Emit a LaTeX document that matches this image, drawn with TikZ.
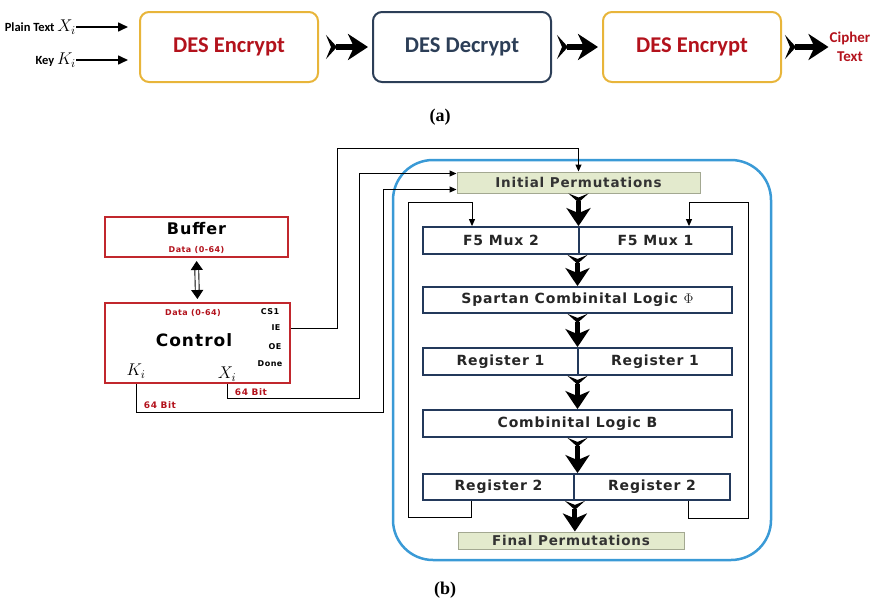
\documentclass[tikz,border=0pt]{standalone}
\usepackage{xcolor}
\usepackage{amsmath}
\usepackage{fix-cm}
\usepackage{fontspec}
\setmainfont{Liberation Serif}
\newfontfamily\calfont{Carlito}
\newfontfamily\boxfont{DejaVu Sans}[LetterSpace=6]
\usetikzlibrary{arrows.meta}
\usetikzlibrary{positioning}

\definecolor{desgold}{HTML}{E8B53A}
\definecolor{desnavy}{HTML}{2C3E57}
\definecolor{desred}{HTML}{B3121C}
\definecolor{bufred}{HTML}{C1272D}
\definecolor{frameblue}{HTML}{3A9AD6}
\definecolor{permgreen}{HTML}{E3EACD}
\definecolor{permgray}{HTML}{A3A891}
\definecolor{stagenavy}{HTML}{23395B}

\newcommand{\bigmath}[1]{{\fontsize{17}{19}\selectfont$#1$}}

\begin{document}
\begin{tikzpicture}[x=1pt, y=-1pt]
\tikzset{EncStyle/.style = {draw=desgold, line width=2pt, rounded corners=9pt, minimum width=178pt, minimum height=70pt, fill=white, text=desred, font=\calfont\bfseries\fontsize{22.5}{26}\selectfont}}
\tikzset{DecStyle/.style = {EncStyle, draw=desnavy, text=desnavy}}
\tikzset{InStyle/.style = {inner sep=0pt, anchor=east, font=\calfont\bfseries\fontsize{12.5}{15}\selectfont}}
\tikzset{BigArrow/.style = {line width=6pt, {Stealth[reversed, length=11pt, width=24pt, inset=5pt]}-{Stealth[length=20pt, width=26pt, inset=6pt]}}}
\tikzset{ThinArrow/.style = {line width=1.6pt, -{Triangle[length=10pt, width=9pt]}}}
\tikzset{Wire/.style = {line width=1pt, -{Triangle[length=7pt, width=6pt]}}}
\tikzset{StageStyle/.style = {draw=stagenavy, line width=1.8pt, fill=white, inner sep=0pt, minimum height=27pt, text=black!85, font=\boxfont\bfseries\fontsize{14}{16}\selectfont}}
\tikzset{PermStyle/.style = {draw=permgray, line width=1pt, fill=permgreen, inner sep=0pt, text=black!80, font=\boxfont\bfseries\fontsize{13.5}{15}\selectfont}}
\tikzset{RedBox/.style = {draw=bufred, line width=2pt, fill=white, inner sep=0pt}}
\tikzset{PinStyle/.style = {inner sep=0pt, font=\boxfont\bfseries\fontsize{8}{9}\selectfont}}
\tikzset{RedText/.style = {PinStyle, text=desred}}
\tikzset{CapStyle/.style = {inner sep=0pt, font=\bfseries\fontsize{18}{20}\selectfont}}

\useasboundingbox (0,0) rectangle (875,608);

% (a) triple DES
\node[EncStyle] (enc1) at (229,47) {DES Encrypt};
\node[DecStyle] (dec) at (462,47) {DES Decrypt};
\node[EncStyle] (enc2) at (692,47) {DES Encrypt};
\node[InStyle] (plain) at (76,27) {Plain Text \bigmath{X_i}};
\node[InStyle] (key) at (76,60) {Key \bigmath{K_i}};
\node[inner sep=0pt, align=center, text=desred, font=\calfont\bfseries\fontsize{15}{19}\selectfont] (cipher) at (850,47) {Cipher\\Text};
\node[CapStyle] (capa) at (440,117) {(a)};

\draw[ThinArrow] (plain.east) -- ([xshift=-11pt]enc1.west |- plain.east);
\draw[ThinArrow] (key.east) -- ([xshift=-11pt]enc1.west |- key.east);
\draw[BigArrow, shorten <=7pt, shorten >=4pt] (enc1) -- (dec);
\draw[BigArrow, shorten <=5pt, shorten >=4pt] (dec) -- (enc2);
\draw[BigArrow, shorten <=3pt, shorten >=1pt] (enc2) -- (cipher);

% (b) hardware
\node[draw=frameblue, line width=2.5pt, rounded corners=40pt, minimum width=378pt, minimum height=400pt] (frame) at (582,360) {};

\node[RedBox, minimum width=183pt, minimum height=40pt] (buf) at (196.5,237) {};
\node[inner sep=0pt, font=\boxfont\bfseries\fontsize{16}{18}\selectfont] (buft) at (196.5,229) {Buffer};
\node[RedText] (bufd) at (196.5,250) {Data (0-64)};

\node[RedBox, minimum width=185pt, minimum height=80pt] (ctrl) at (197.5,343) {};
\node[inner sep=0pt, font=\boxfont\bfseries\fontsize{17}{19}\selectfont] (ctrlt) at (194,340) {Control};
\node[RedText] (ctrld) at (193,313) {Data (0-64)};
\node[PinStyle] (cs) at (270,312) {CS1};
\node[PinStyle] (ie) at (276,328) {IE};
\node[PinStyle] (oe) at (275,347) {OE};
\node[PinStyle] (done) at (270,364) {Done};
\node[inner sep=0pt] (ki) at (136,371) {\bigmath{K_i}};
\node[inner sep=0pt] (xi) at (227,374) {\bigmath{X_i}};
\node[RedText, font=\boxfont\bfseries\fontsize{9}{10}\selectfont] (bitx) at (251,392) {64 Bit};
\node[RedText, font=\boxfont\bfseries\fontsize{9}{10}\selectfont] (bitk) at (160,405) {64 Bit};

\draw[double, double distance=3pt, line width=0.9pt, shorten <=3pt, shorten >=3pt, {Triangle[length=9pt, width=12pt]}-{Triangle[length=9pt, width=12pt]}] (buf.south) -- (ctrl.north);

\node[PermStyle, minimum width=243pt, minimum height=21pt] (ip) at (578.5,182.5) {Initial Permutations};
\node[StageStyle, minimum width=156pt] (mux2) at (501,240.5) {F5 Mux 2};
\node[StageStyle, minimum width=153pt] (mux1) at (655.5,240.5) {F5 Mux 1};
\node[StageStyle, minimum width=309pt, minimum height=26pt] (scl) at (577.5,300) {Spartan Combinital Logic $\Phi$};
\node[StageStyle, minimum width=155pt] (reg1a) at (500.5,361.5) {Register 1};
\node[StageStyle, minimum width=154pt] (reg1b) at (655,361.5) {Register 1};
\node[StageStyle, minimum width=309pt] (clb) at (577.5,423.5) {Combinital Logic B};
\node[StageStyle, minimum width=151pt, minimum height=26pt] (reg2a) at (498.5,487) {Register 2};
\node[StageStyle, minimum width=156pt, minimum height=26pt] (reg2b) at (652,487) {Register 2};
\node[PermStyle, minimum width=226pt, minimum height=17pt] (fp) at (571,540.5) {Final Permutations};
\node[CapStyle] (capb) at (445,590) {(b)};

\tikzset{BigDown/.style = {line width=5pt, {Stealth[reversed, length=9pt, width=20pt, inset=4pt]}-{Stealth[length=18pt, width=24pt, inset=5pt]}}}
\draw[BigDown] (ip.south) -- (ip.south |- mux2.north);
\draw[BigDown] (mux2.south -| scl.north) -- (scl.north);
\draw[BigDown] (scl.south) -- (scl.south |- reg1a.north);
\draw[BigDown] (reg1a.south -| clb.north) -- (clb.north);
\draw[BigDown] (clb.south) -- (clb.south |- reg2a.north);
\draw[BigDown] (reg2a.south east) -- (reg2a.south east |- fp.north);

% feedback from register 2
\draw[Wire] ([xshift=-27.5pt]reg2a.south) -- ++(0,17) -| (408,202) -| ([xshift=-29pt]mux2.north);
\draw[Wire] ([xshift=36pt]reg2b.south) -- ++(0,18) -| (748,202) -| ([xshift=33.5pt]mux1.north);

% control lines
\draw[Wire] (ctrl.east |- ie) -| (337,148) -| (ip.north);
\draw[Wire] (xi |- ctrl.south) |- (359,398) |- ([yshift=9pt]ip.west);
\draw[Wire] (ki |- ctrl.south) |- (383,412) |- ([yshift=-7pt]ip.west);
\end{tikzpicture}
\end{document}
